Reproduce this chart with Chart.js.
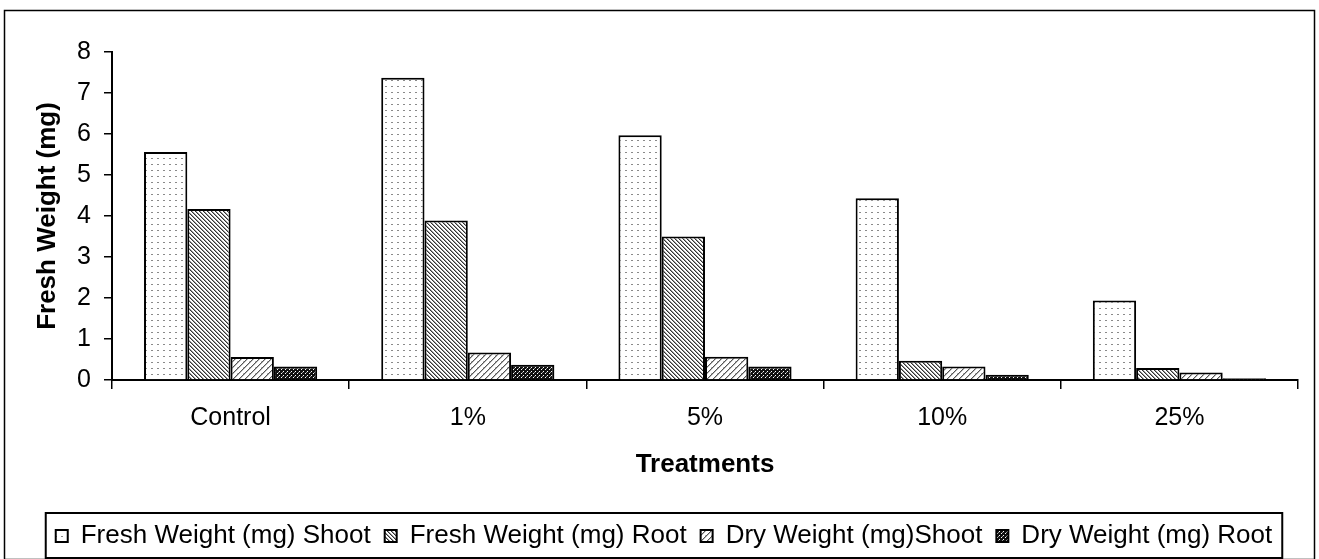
<!DOCTYPE html>
<html>
<head>
<meta charset="utf-8">
<script src="https://cdn.jsdelivr.net/npm/chart.js@4.4.1/dist/chart.umd.min.js"></script>
<style>
  html, body { margin: 0; padding: 0; background: #fff; }
  #wrap { width: 1319px; height: 559px; }
</style>
</head>
<body>
<div id="wrap"><canvas id="weightChart"></canvas></div>
<script>
// ---- Data ----
const categories = ['Control', '1%', '5%', '10%', '25%'];
const freshShoot = [5.56, 7.37, 5.97, 4.43, 1.94];
const freshRoot  = [4.17, 3.89, 3.50, 0.47, 0.29];
const dryShoot   = [0.56, 0.67, 0.57, 0.33, 0.18];
const dryRoot    = [0.33, 0.37, 0.33, 0.13, 0.04];
const seriesNames = [
    'Fresh Weight (mg) Shoot',
    'Fresh Weight (mg) Root',
    'Dry Weight (mg)Shoot',
    'Dry Weight (mg) Root'
];

const FONT = 'Arial, "Liberation Sans", sans-serif';

// ---- Fill patterns (mono print style) ----
function makePattern(size, draw) {
    const c = document.createElement('canvas');
    c.width = size;
    c.height = size;
    const g = c.getContext('2d');
    draw(g, size);
    return g.createPattern(c, 'repeat');
}

// small dashes in rows
const dotsPattern = makePattern(6, (g, s) => {
    g.fillStyle = '#fff';
    g.fillRect(0, 0, s, s);
    g.fillStyle = '#8a8a8a';
    g.fillRect(1, 2, 2, 1);
});

// dense back-slash hatch
const denseHatch = makePattern(4, (g, s) => {
    g.fillStyle = '#fff';
    g.fillRect(0, 0, s, s);
    g.fillStyle = '#333';
    for (let i = 0; i < s; i++) g.fillRect(i, i, 1, 1);
    g.fillStyle = '#999';
    for (let i = 0; i < s; i++) g.fillRect((i + 1) % s, i, 1, 1);
});

// wider forward-slash hatch
const wideHatch = makePattern(6, (g, s) => {
    g.fillStyle = '#fff';
    g.fillRect(0, 0, s, s);
    g.fillStyle = '#555';
    for (let i = 0; i < s; i++) g.fillRect(s - 1 - i, i, 1, 1);
    g.fillStyle = '#bbb';
    for (let i = 0; i < s; i++) g.fillRect((s - i) % s, i, 1, 1);
    g.fillRect(3, 1, 1, 1);
});

// dark checker
const darkCheck = makePattern(4, (g, s) => {
    g.fillStyle = '#111';
    g.fillRect(0, 0, s, s);
    g.fillStyle = '#fff';
    g.fillRect(1, 1, 1, 1);
    g.fillRect(3, 3, 1, 1);
    g.fillStyle = '#999';
    g.fillRect(2, 0, 1, 1);
});

const fills = [dotsPattern, denseHatch, wideHatch, darkCheck];
const values = [freshShoot, freshRoot, dryShoot, dryRoot];

// ---- Frame around the whole chart and a box around the legend ----
const framePlugin = {
    id: 'frame',
    beforeDraw(chart) {
        const ctx = chart.ctx;
        ctx.save();
        ctx.fillStyle = '#fff';
        ctx.fillRect(0, 0, chart.width, chart.height);
        ctx.strokeStyle = '#000';
        ctx.lineWidth = 1.5;
        ctx.strokeRect(4.5, 10.5, chart.width - 9, chart.height - 10);
        ctx.restore();
    },
    afterDraw(chart) {
        const boxes = chart.legend.legendHitBoxes;
        if (!boxes || !boxes.length) return;
        const left = Math.min(...boxes.map(b => b.left)) - 10;
        const right = Math.max(...boxes.map(b => b.left + b.width)) + 10;
        const top = boxes[0].top - 10;
        const bottom = boxes[0].top + boxes[0].height + 9;
        const ctx = chart.ctx;
        ctx.save();
        ctx.strokeStyle = '#000';
        ctx.lineWidth = 2;
        ctx.strokeRect(left, top, right - left, bottom - top);
        ctx.restore();
    }
};

// ---- Chart ----
new Chart(document.getElementById('weightChart'), {
    type: 'bar',
    data: {
        labels: categories,
        datasets: seriesNames.map((name, i) => ({
            label: name,
            data: values[i],
            backgroundColor: fills[i],
            borderColor: '#000',
            borderWidth: 2,
            categoryPercentage: 0.73,
            barPercentage: 1.0
        }))
    },
    options: {
        responsive: true,
        maintainAspectRatio: false,
        animation: false,
        layout: { padding: { left: 30, right: 21, top: 52, bottom: 0 } },
        plugins: {
            tooltip: { enabled: false },
            legend: {
                position: 'bottom',
                labels: {
                    color: '#000',
                    font: { family: FONT, size: 26 },
                    boxWidth: 12,
                    boxHeight: 12,
                    padding: 14
                }
            }
        },
        scales: {
            x: {
                afterFit: (scale) => { scale.height = 129; },
                grid: {
                    display: true,
                    drawOnChartArea: false,
                    offset: true,
                    color: '#000',
                    lineWidth: 1.5,
                    tickLength: 9
                },
                border: { color: '#000', width: 2 },
                ticks: {
                    color: '#000',
                    font: { family: FONT, size: 25 },
                    padding: 14
                },
                title: {
                    display: true,
                    text: 'Treatments',
                    color: '#000',
                    font: { family: FONT, size: 26, weight: 'bold' },
                    padding: { top: 4, bottom: 29 }
                }
            },
            y: {
                min: 0,
                max: 8,
                afterFit: (scale) => { scale.width = 82; },
                grid: {
                    display: true,
                    drawOnChartArea: false,
                    color: '#000',
                    lineWidth: 1.5,
                    tickLength: 8
                },
                border: { color: '#000', width: 2 },
                ticks: {
                    stepSize: 1,
                    color: '#000',
                    font: { family: FONT, size: 25 },
                    padding: 13
                },
                title: {
                    display: true,
                    text: 'Fresh Weight (mg)',
                    color: '#000',
                    font: { family: FONT, size: 26, weight: 'bold' },
                    padding: { top: 2, bottom: 0 }
                }
            }
        }
    },
    plugins: [framePlugin]
});
</script>
</body>
</html>
